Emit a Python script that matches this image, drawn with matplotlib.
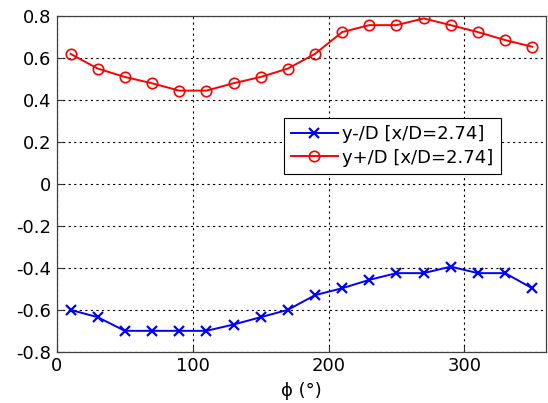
import matplotlib
matplotlib.use("Agg")
import matplotlib.pyplot as plt

# angle positions (deg)
phi = [10, 30, 50, 70, 90, 110, 130, 150, 170, 190, 210, 230, 250, 270, 290, 310, 330, 350]

# y-/D and y+/D at x/D = 2.74
y_minus = [-0.60, -0.635, -0.70, -0.70, -0.70, -0.70, -0.67, -0.635, -0.60, -0.53,
           -0.497, -0.457, -0.425, -0.425, -0.394, -0.425, -0.425, -0.497]
y_plus = [0.62, 0.55, 0.51, 0.48, 0.445, 0.445, 0.48, 0.51, 0.55, 0.62,
          0.724, 0.757, 0.757, 0.789, 0.757, 0.724, 0.686, 0.654]

x_ticks = [0, 100, 200, 300]
y_ticks = [-0.8, -0.6, -0.4, -0.2, 0, 0.2, 0.4, 0.6, 0.8]
y_tick_labels = ["-0.8", "-0.6", "-0.4", "-0.2", "0", "0.2", "0.4", "0.6", "0.8"]

plt.rcParams['font.family'] = ['DejaVu Sans']

fig = plt.figure(figsize=(5.48, 4.03), dpi=100)
ax = fig.add_axes([0.104, 0.127, 0.892, 0.833])

ax.plot(phi, y_minus, color='blue', marker='x', markersize=7, markeredgewidth=1.6,
        linewidth=1.4, label='y-/D [x/D=2.74]')
ax.plot(phi, y_plus, color='red', marker='o', markersize=7.5, markerfacecolor='none',
        markeredgewidth=1.2, linewidth=1.4, label='y+/D [x/D=2.74]')

ax.set_xlim(0, 360)
ax.set_ylim(-0.8, 0.8)
ax.set_xticks(x_ticks)
ax.set_yticks(y_ticks)
ax.set_yticklabels(y_tick_labels)
ax.tick_params(direction='in', labelsize=13, length=4, color='#333333', pad=4)
ax.grid(True, linestyle=(0, (2, 3)), color='black', linewidth=0.8)
for s in ax.spines.values():
    s.set_color('#404040')
    s.set_linewidth(0.9)

ax.set_xlabel('ϕ (°)', fontsize=13, labelpad=5)

leg = ax.legend(loc='upper left', bbox_to_anchor=(0.464, 0.696), fontsize=13,
                frameon=True, fancybox=False, framealpha=1, edgecolor='black',
                handlelength=2.6, borderpad=0.4, labelspacing=0.3,
                handletextpad=0.25, borderaxespad=0)
leg.get_frame().set_linewidth(0.8)

fig.savefig('out.png', dpi=100)
